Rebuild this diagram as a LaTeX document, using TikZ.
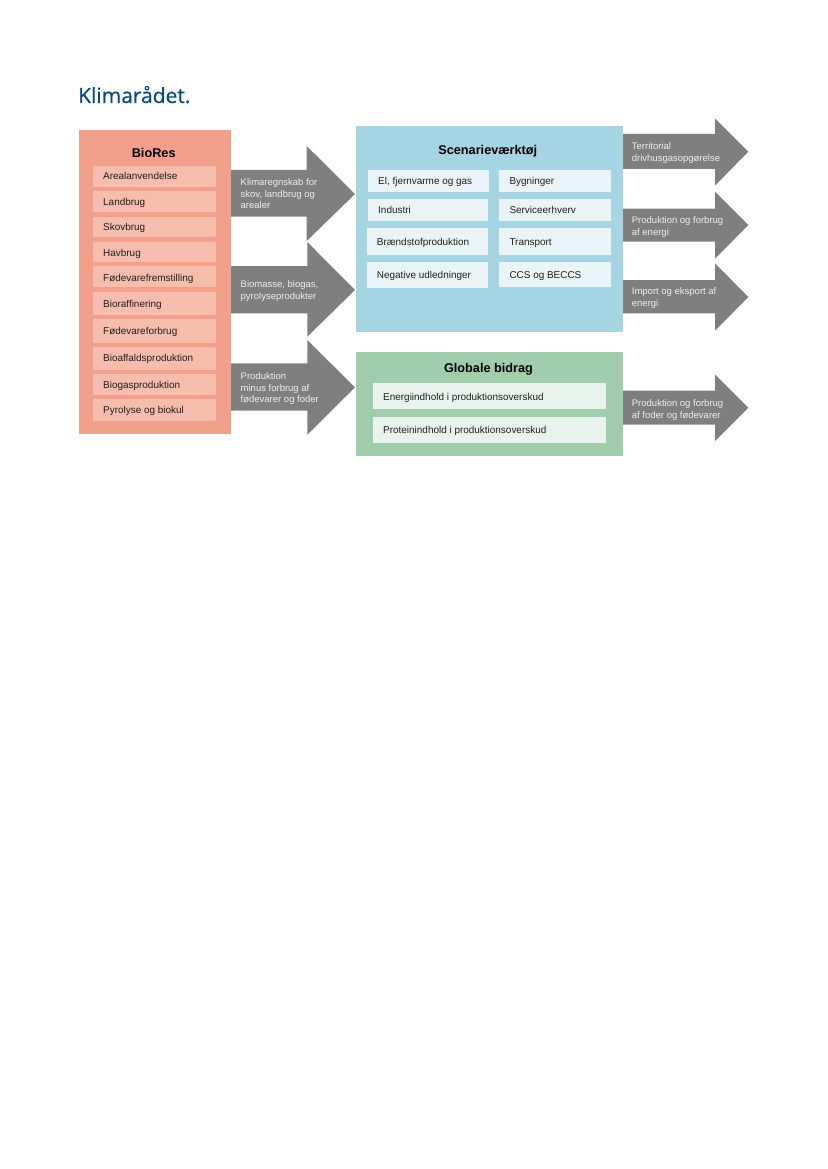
\documentclass[tikz,border=0pt]{standalone}
\usepackage{fontspec}
\setmainfont{Liberation Sans}
\newfontfamily\logofont[FakeBold=0.35]{Open Sans}
\definecolor{salmon}{HTML}{F2A08B}
\definecolor{salmonitem}{HTML}{F6BDAD}
\definecolor{skyblue}{HTML}{A5D4E3}
\definecolor{skyitem}{HTML}{EAF4F7}
\definecolor{leaf}{HTML}{A0CEAC}
\definecolor{leafitem}{HTML}{E9F3EE}
\definecolor{arrowgrey}{HTML}{7F7F7F}
\definecolor{logoblue}{HTML}{004B7C}
\tikzset{
  x=1pt,y=-1pt,
  panel/.style={inner sep=0pt,outer sep=0pt},
  itemtext/.style={inner sep=0pt,anchor=base west,font=\fontsize{9.95}{11.8}\selectfont,text=black!88},
  titletext/.style={inner sep=0pt,anchor=base,font=\fontsize{12.7}{14}\selectfont\bfseries,text=black},
  arrowtext/.style={inner sep=0pt,anchor=north west,align=left,font=\fontsize{9.5}{11.8}\selectfont,text=white!93!black},
  bigarrow/.style={fill=arrowgrey,draw=none}
}
% name, x1,y1,x2,y2, fill
\newcommand{\boxnode}[6]{\fill[#6] (#2,#3) rectangle (#4,#5);
  \coordinate (#1) at ({(#2+#4)/2},{(#3+#5)/2});}
% name, x1,y1,x2,y2, fill, text x, baseline, text
\newcommand{\itemnode}[9]{\fill[#6] (#2,#3) rectangle (#4,#5);
  \node[itemtext] (#1) at (#7,#8) {#9};}
% name, xstart, bodytop, bodybottom, headx, headtop, headbottom, tipx, tipy
\newcommand{\bigarr}[9]{\fill[bigarrow] (#2,#3) -- (#5,#3) -- (#5,#6) -- (#8,#9) -- (#5,#7) -- (#5,#4) -- (#2,#4) -- cycle;
  \coordinate (#1) at (#8,#9);}
% name, x, first baseline, text
\newcommand{\arrlabel}[4]{\node[arrowtext] (#1) at (#2,{#3-8.26}) {#4};}
\begin{document}
\begin{tikzpicture}
\useasboundingbox (0,0) rectangle (827,1169);
\node[inner sep=0pt,anchor=base west,text=logoblue,font=\fontsize{21}{24}\selectfont\logofont] (logo) at (78,103) {Klimarådet.};

% BioRes
\boxnode{biores}{79}{130}{231}{434}{salmon}
\node[titletext] (bioresT) at (153.7,157.7) {BioRes};
\itemnode{b1}{93.3}{166}{216}{186.7}{salmonitem}{103}{180}{Arealanvendelse}
\itemnode{b2}{93.3}{191}{216}{211.7}{salmonitem}{103}{205.7}{Landbrug}
\itemnode{b3}{93.3}{216.7}{216}{237}{salmonitem}{103}{230.7}{Skovbrug}
\itemnode{b4}{93.3}{241.7}{216}{262.3}{salmonitem}{103}{256}{Havbrug}
\itemnode{b5}{93.3}{266}{216}{287.3}{salmonitem}{103}{281}{Fødevarefremstilling}
\itemnode{b6}{93.3}{292}{216}{315}{salmonitem}{103}{307.3}{Bioraffinering}
\itemnode{b7}{93.3}{319.3}{216}{342.7}{salmonitem}{103}{334}{Fødevareforbrug}
\itemnode{b8}{93.3}{346.7}{216}{369.7}{salmonitem}{103}{361.7}{Bioaffaldsproduktion}
\itemnode{b9}{93.3}{374}{216}{395}{salmonitem}{103}{388.3}{Biogasproduktion}
\itemnode{b10}{93.3}{399.3}{216}{421}{salmonitem}{103}{413.3}{Pyrolyse og biokul}

% Scenarieværktøj
\boxnode{scen}{355.5}{126}{623}{331.7}{skyblue}
\node[titletext] (scenT) at (487.8,154.3) {Scenarieværktøj};
\itemnode{s1}{368.3}{170}{488.7}{192}{skyitem}{378}{184.7}{El, fjernvarme og gas}
\itemnode{s2}{368}{199}{488}{221.3}{skyitem}{378}{214}{Industri}
\itemnode{s3}{367}{228}{488}{254.7}{skyitem}{376.7}{245}{Brændstofproduktion}
\itemnode{s4}{367}{262.3}{488}{287.7}{skyitem}{376.7}{278.3}{Negative udledninger}
\itemnode{s5}{499.3}{170}{610.7}{192}{skyitem}{509.3}{184.7}{Bygninger}
\itemnode{s6}{499.3}{199}{610.7}{221.3}{skyitem}{509.3}{214}{Serviceerhverv}
\itemnode{s7}{499.3}{228}{610.7}{254.7}{skyitem}{509.3}{245}{Transport}
\itemnode{s8}{499.3}{262.3}{610.7}{287}{skyitem}{509.3}{278.3}{CCS og BECCS}

% Globale bidrag
\boxnode{glob}{356}{352}{623}{455.7}{leaf}
\node[titletext] (globT) at (488.5,372) {Globale bidrag};
\itemnode{g1}{373.3}{383}{606}{409.3}{leafitem}{383}{400}{Energiindhold i produktionsoverskud}
\itemnode{g2}{373.3}{416.7}{606}{443.3}{leafitem}{383}{433.3}{Proteinindhold i produktionsoverskud}

% Arrows
\bigarr{a1}{231}{170}{216.7}{306.7}{146}{241}{355}{194}
\arrlabel{a1T}{240.5}{185}{\strut Klimaregnskab for\\\strut skov, landbrug og\\\strut arealer}
\bigarr{a2}{231}{266}{313.3}{307.3}{242}{336.7}{355}{290}
\arrlabel{a2T}{240.5}{287}{\strut Biomasse, biogas,\\\strut pyrolyseprodukter}
\bigarr{a3}{231}{363.3}{410.7}{307.3}{340}{434.7}{355}{387.3}
\arrlabel{a3T}{240.5}{379}{\strut Produktion\\\strut minus forbrug af\\\strut fødevarer og foder}

\bigarr{r1}{623}{134}{169}{715}{118.3}{185.7}{748.3}{151.7}
\arrlabel{r1T}{631.7}{149.3}{\strut Territorial\\\strut drivhusgasopgørelse}
\bigarr{r2}{623}{208.7}{241.7}{715}{191.7}{258.7}{748.3}{225}
\arrlabel{r2T}{631.7}{223.3}{\strut Produktion og forbrug\\\strut af energi}
\bigarr{r3}{623}{280}{313.3}{715}{263.3}{330.7}{748.3}{297}
\arrlabel{r3T}{631.7}{294.3}{\strut Import og eksport af\\\strut energi}
\bigarr{r4}{623}{390.7}{424.7}{715}{374.3}{441}{748.3}{407.7}
\arrlabel{r4T}{631.7}{406}{\strut Produktion og forbrug\\\strut af foder og fødevarer}
\end{tikzpicture}
\end{document}
